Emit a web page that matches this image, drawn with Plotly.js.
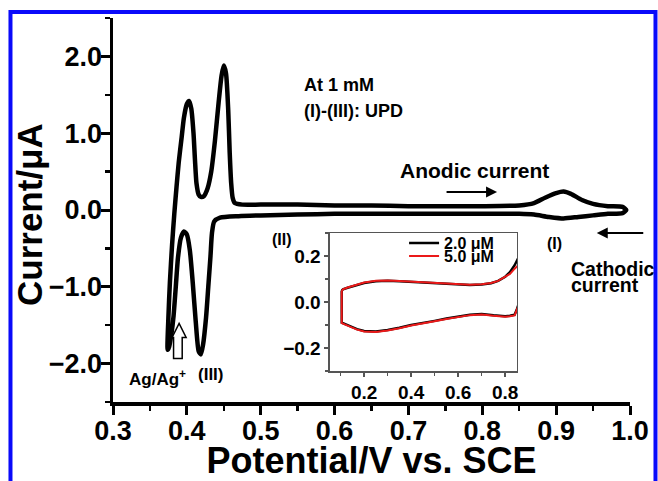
<!DOCTYPE html>
<html>
<head>
<meta charset="utf-8">
<script src="https://cdn.plot.ly/plotly-3.0.1.min.js"></script>
<style>
html,body{margin:0;padding:0;background:#fff;}
#chart{width:658px;height:481px;}
</style>
</head>
<body>
<div id="chart"></div>
<script>
// Main CV at 1 mM (potential V vs SCE, current uA)
var cvPotential = [0.374,0.375,0.377,0.380,0.383,0.386,0.389,0.393,0.396,0.400,0.403,0.406,0.409,0.411,0.413,0.416,0.419,0.423,0.428,0.433,0.438,0.443,0.447,0.450,0.453,0.456,0.458,0.460,0.462,0.465,0.475,0.50,0.55,0.60,0.65,0.70,0.75,0.80,0.85,0.87,0.885,0.90,0.91,0.92,0.935,0.95,0.97,0.99,0.995,
  0.99,0.97,0.95,0.93,0.91,0.89,0.87,0.85,0.80,0.70,0.60,0.55,0.50,0.47,0.445,0.437,0.434,0.432,0.429,0.426,0.422,0.419,0.416,0.412,0.408,0.404,0.400,0.396,0.392,0.388,0.385,0.382,0.379,0.376,0.374];
var cvCurrent = [-1.82,-1.40,-0.95,-0.45,-0.05,0.30,0.62,0.95,1.20,1.38,1.42,1.32,1.00,0.65,0.35,0.20,0.17,0.18,0.28,0.50,0.90,1.40,1.75,1.88,1.78,1.30,0.75,0.35,0.16,0.09,0.07,0.07,0.07,0.06,0.06,0.05,0.05,0.05,0.06,0.09,0.16,0.22,0.24,0.21,0.13,0.08,0.05,0.04,0.00,
  -0.04,-0.05,-0.07,-0.09,-0.11,-0.09,-0.06,-0.05,-0.05,-0.05,-0.05,-0.06,-0.07,-0.08,-0.10,-0.15,-0.30,-0.60,-1.00,-1.40,-1.75,-1.88,-1.84,-1.45,-0.95,-0.52,-0.32,-0.28,-0.36,-0.62,-1.00,-1.38,-1.62,-1.78,-1.82];

// Inset CVs
var insetPotential = [0.105,0.11,0.13,0.15,0.18,0.20,0.25,0.30,0.35,0.40,0.45,0.50,0.55,0.60,0.65,0.70,0.74,0.77,0.80,0.82,0.84,0.86,
  0.86,0.85,0.84,0.82,0.80,0.75,0.70,0.65,0.60,0.55,0.50,0.45,0.40,0.35,0.30,0.25,0.20,0.17,0.15,0.12,0.105,0.105];
var current2uM = [0.050,0.055,0.062,0.068,0.078,0.083,0.090,0.092,0.090,0.087,0.085,0.082,0.078,0.075,0.074,0.076,0.082,0.092,0.110,0.130,0.160,0.200,
  0.000,-0.030,-0.055,-0.060,-0.062,-0.058,-0.052,-0.055,-0.062,-0.072,-0.082,-0.090,-0.100,-0.112,-0.122,-0.128,-0.126,-0.118,-0.110,-0.098,-0.090,0.050];
var current5uM = [0.048,0.055,0.063,0.070,0.080,0.085,0.092,0.094,0.091,0.088,0.085,0.082,0.079,0.076,0.075,0.077,0.083,0.092,0.108,0.122,0.145,0.165,
  -0.005,-0.035,-0.058,-0.062,-0.064,-0.060,-0.054,-0.057,-0.064,-0.074,-0.084,-0.092,-0.102,-0.114,-0.124,-0.130,-0.128,-0.120,-0.112,-0.100,-0.092,0.048];
var seriesNames = ['2.0 μM','5.0 μM'];

var F = 'Arial, "Liberation Sans", sans-serif';
function bf(s){return {family:F,size:s,color:'#000',weight:'bold'};}

var traces = [
  {x:cvPotential,y:cvCurrent,xaxis:'x',yaxis:'y',mode:'lines',showlegend:false,
   line:{color:'#000',width:4.5,shape:'spline',smoothing:0.6}},
  {x:insetPotential,y:current2uM,xaxis:'x2',yaxis:'y2',mode:'lines',name:seriesNames[0],legend:'legend',
   line:{color:'#000',width:2.5}},
  {x:insetPotential,y:current5uM,xaxis:'x2',yaxis:'y2',mode:'lines',name:seriesNames[1],legend:'legend2',
   line:{color:'rgb(235,25,25)',width:2}}
];

var layout = {
  width:658,height:481,
  margin:{l:113,r:28,t:18,b:79},
  paper_bgcolor:'#fff',plot_bgcolor:'#fff',
  showlegend:true,
  legend:{x:0.563,y:0.458,xanchor:'left',yanchor:'top',bgcolor:'rgba(0,0,0,0)',
          font:bf(16),itemwidth:30},
  legend2:{x:0.563,y:0.424,xanchor:'left',yanchor:'top',bgcolor:'rgba(0,0,0,0)',
          font:bf(16),itemwidth:30},
  xaxis:{range:[0.3,1.0],dtick:0.1,tick0:0.3,tickformat:'.1f',showgrid:false,zeroline:false,
         showline:true,linewidth:3.5,linecolor:'#000',ticks:'outside',ticklen:9,tickwidth:3,tickcolor:'#000',
         minor:{dtick:0.05,ticks:'outside',ticklen:5,tickwidth:2.5,tickcolor:'#000'},
         tickfont:bf(27),automargin:false,ticklabelstandoff:-7,
         title:{text:'Potential/V vs. SCE',font:bf(36),standoff:8}},
  yaxis:{range:[-2.5,2.5],dtick:1,tick0:0,tickformat:'.1f',showgrid:false,zeroline:false,
         showline:true,linewidth:3.5,linecolor:'#000',ticks:'outside',ticklen:9,tickwidth:3,tickcolor:'#000',
         minor:{dtick:0.5,ticks:'outside',ticklen:5,tickwidth:2.5,tickcolor:'#000'},
         tickfont:bf(27),automargin:false,ticklabelstandoff:-7},
  xaxis2:{domain:[0.4197,0.7814],anchor:'y2',range:[0.055,0.85],dtick:0.2,tick0:0,tickformat:'.1f',
          showgrid:false,zeroline:false,showline:true,mirror:true,linewidth:1.5,linecolor:'#555',
          ticks:'outside',ticklen:4,tickwidth:1.5,tickcolor:'#555',
          minor:{dtick:0.1,ticks:'outside',ticklen:3,tickwidth:1.5,tickcolor:'#555'},
          tickfont:bf(19),automargin:false},
  yaxis2:{domain:[0.0807,0.440],anchor:'x2',range:[-0.3,0.3],dtick:0.2,tick0:0,tickformat:'.1f',
          showgrid:false,zeroline:false,showline:true,mirror:true,linewidth:1.5,linecolor:'#555',
          ticks:'outside',ticklen:4,tickwidth:1.5,tickcolor:'#555',
          minor:{dtick:0.1,ticks:'outside',ticklen:3,tickwidth:1.5,tickcolor:'#555'},
          tickfont:bf(19),automargin:false},
  annotations:[
    {xref:'paper',yref:'paper',x:-0.1605,y:0.487,xanchor:'center',yanchor:'middle',textangle:-90,text:'Current/μA',showarrow:false,font:bf(35)},
    {xref:'x',yref:'y',x:0.556,y:1.63,xanchor:'left',yanchor:'middle',text:'At 1 mM',showarrow:false,font:bf(18)},
    {xref:'x',yref:'y',x:0.556,y:1.29,xanchor:'left',yanchor:'middle',text:'(I)-(III): UPD',showarrow:false,font:bf(18)},
    {xref:'x',yref:'y',x:0.686,y:0.52,xanchor:'left',yanchor:'middle',text:'Anodic current',showarrow:false,font:bf(21)},
    {xref:'x',yref:'y',x:0.820,y:0.235,ax:-52,ay:0,text:'',showarrow:true,arrowhead:2,arrowsize:1.1,arrowwidth:2,arrowcolor:'#000'},
    {xref:'x',yref:'y',x:0.529,y:-0.39,xanchor:'center',yanchor:'middle',text:'(II)',showarrow:false,font:bf(16)},
    {xref:'x',yref:'y',x:0.898,y:-0.43,xanchor:'center',yanchor:'middle',text:'(I)',showarrow:false,font:bf(16)},
    {xref:'x',yref:'y',x:0.955,y:-0.30,ax:48,ay:0,text:'',showarrow:true,arrowhead:2,arrowsize:1.1,arrowwidth:2,arrowcolor:'#000'},
    {xref:'x',yref:'y',x:0.9174,y:-0.77,xanchor:'left',yanchor:'middle',text:'Cathodic',showarrow:false,font:bf(19.5)},
    {xref:'x',yref:'y',x:0.9174,y:-0.98,xanchor:'left',yanchor:'middle',text:'current',showarrow:false,font:bf(19.5)},
    {xref:'x',yref:'y',x:0.3609,y:-2.19,xanchor:'center',yanchor:'middle',text:'Ag/Ag<sup>+</sup>',showarrow:false,font:bf(17)},
    {xref:'x',yref:'y',x:0.4327,y:-2.14,xanchor:'center',yanchor:'middle',text:'(III)',showarrow:false,font:bf(17)}
  ],
  shapes:[
    {type:'path',xref:'x',yref:'y',
     path:'M 0.3820,-1.935 L 0.3937,-1.935 L 0.3937,-1.66 L 0.3990,-1.66 L 0.3895,-1.477 L 0.3800,-1.66 L 0.3820,-1.66 Z',
     fillcolor:'#fff',line:{color:'#000',width:1.5}},
    {type:'rect',xref:'paper',yref:'paper',x0:-0.1983,x1:1.0493,y0:-0.35,y1:1.0156,
     line:{color:'rgb(10,10,250)',width:4},fillcolor:'rgba(0,0,0,0)'}
  ]
};

Plotly.newPlot('chart',traces,layout,{displayModeBar:false,staticPlot:true});
</script>
</body>
</html>
